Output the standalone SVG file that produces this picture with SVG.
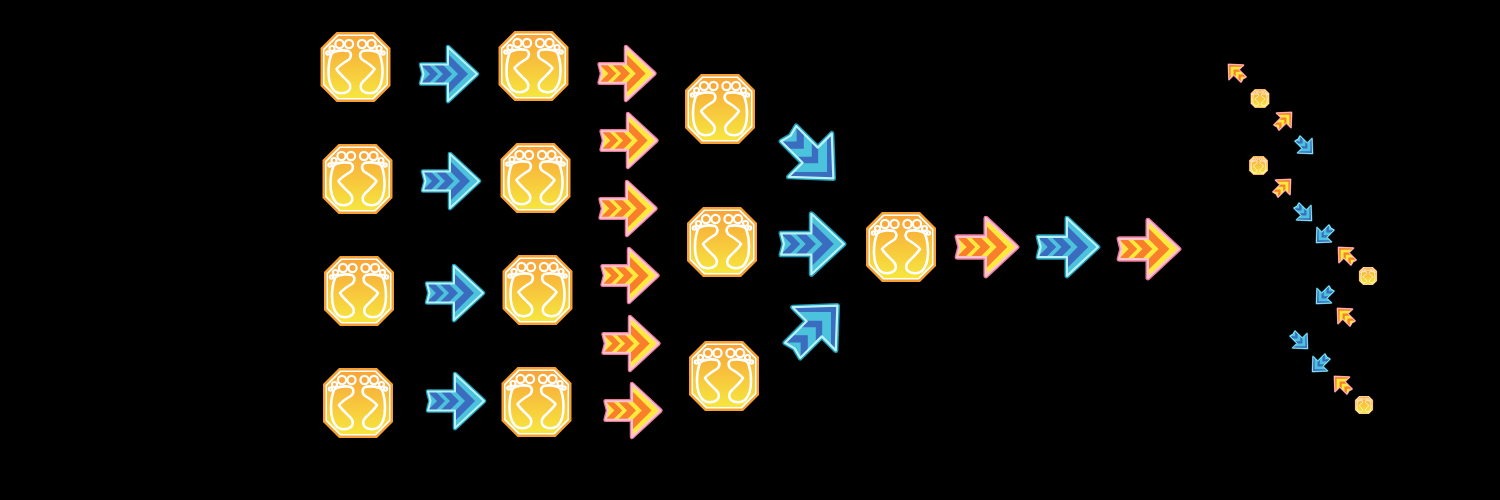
<svg xmlns="http://www.w3.org/2000/svg" xmlns:xlink="http://www.w3.org/1999/xlink" width="1500" height="500" viewBox="0 0 1500 500">
<style>
.foot{fill:none;stroke:#fff;stroke-width:2.600;stroke-linejoin:round}
.toe{fill:#f9a93a;stroke:#fff;stroke-width:2.200}
.j{stroke-linejoin:round}
</style>
<defs>
<linearGradient id="g" x1="0" y1="0" x2="0" y2="1"><stop offset="0" stop-color="#f9a53a"/><stop offset="1" stop-color="#f6e63f"/></linearGradient>
<g id="f"><path class="foot" d="M-24,-13C-26,-8-27,-2-27,5C-27,13-25,20-21,24C-17,27-11,27-7,24C-4,21-5,17-8,14C-12,10-16,7-19,2C-16,-2-10,-5-6,-8C-4,-11-4,-14-7,-16C-12,-17-21,-17-24,-13Z"/><circle class="toe" cx="-6.500" cy="-23" r="4.100"/><circle class="toe" cx="-16" cy="-23" r="4.100"/><circle class="toe" cx="-23.500" cy="-18.500" r="2.500"/><circle class="toe" cx="-27.500" cy="-14" r="1.700"/></g>
<g id="N"><path fill="#f6a02f" d="M-19,-35H19L35,-19V19L19,35H-19L-35,19V-19Z"/><path fill="#fff" d="M-18,-32.500H18L32.500,-18V18L18,32.500H-18L-32.500,18V-18Z"/><path fill="url(#g)" d="M-17,-31H17L31,-17V17L17,31H-17L-31,17V-17Z"/><use xlink:href="#f" href="#f"/><use xlink:href="#f" href="#f" transform="scale(-1,1)"/></g>
<path id="a" d="M-28,-9.500H-1V-27L28,0L-1,27V9.500H-28L-25.500,0Z"/>
<clipPath id="c"><use href="#a" xlink:href="#a"/></clipPath>
<path id="ch" d="M19,0L-11,-30H-21L9,0L-21,30H-11ZM3,0L-27,-30H-36L-6,0L-36,30H-27ZM-11,0L-41,-30H-49L-19,0L-49,30H-41Z"/>
<path id="ch2" d="M30,0L0,-30H-10L20,0L-10,30H0ZM9,0L-21,-30H-29L1,0L-29,30H-21ZM-9,0L-39,-30H-48L-18,0L-48,30H-39Z"/>
<g id="BO"><use href="#a" xlink:href="#a" fill="none" stroke="#1a9ab8" stroke-width="4.600" class="j"/><use href="#a" xlink:href="#a" fill="#4cc3dc"/></g>
<g id="RO"><use href="#a" xlink:href="#a" fill="none" stroke="#e8789a" stroke-width="4.600" class="j"/><use href="#a" xlink:href="#a" fill="#fdea3c"/></g>
<use id="BE" href="#a" xlink:href="#a" fill="none" stroke="#b8f2f4" stroke-width="2" class="j"/>
<use id="RE" href="#a" xlink:href="#a" fill="none" stroke="#ffc4d2" stroke-width="2" class="j"/>
<g id="B"><use href="#BO" xlink:href="#BO"/><g clip-path="url(#c)"><use href="#ch" xlink:href="#ch" fill="#3a6cc0"/></g><use href="#BE" xlink:href="#BE"/></g>
<g id="R"><use href="#RO" xlink:href="#RO"/><g clip-path="url(#c)"><use href="#ch" xlink:href="#ch" fill="#f97f2c"/></g><use href="#RE" xlink:href="#RE"/></g>
<g id="BD"><use href="#BO" xlink:href="#BO"/><g clip-path="url(#c)"><use href="#ch2" xlink:href="#ch2" fill="#3a6cc0"/></g><use href="#BE" xlink:href="#BE"/></g>
<g id="RD"><use href="#RO" xlink:href="#RO"/><g clip-path="url(#c)"><use href="#ch2" xlink:href="#ch2" fill="#f97f2c"/></g><use href="#RE" xlink:href="#RE"/></g>
</defs>
<rect width="1500" height="500" fill="#000"/>
<g id="nodes">
<use id="n1" href="#N" xlink:href="#N" x="355.500" y="67"/>
<use id="n2" href="#N" xlink:href="#N" x="357.500" y="179"/>
<use id="n3" href="#N" xlink:href="#N" x="359" y="291"/>
<use id="n4" href="#N" xlink:href="#N" x="358" y="403"/>
<use id="n5" href="#N" xlink:href="#N" x="533.500" y="66"/>
<use id="n6" href="#N" xlink:href="#N" x="535.500" y="178"/>
<use id="n7" href="#N" xlink:href="#N" x="537.500" y="290"/>
<use id="n8" href="#N" xlink:href="#N" x="536.500" y="402"/>
<use id="n9" href="#N" xlink:href="#N" x="720" y="109"/>
<use id="n10" href="#N" xlink:href="#N" x="722" y="242"/>
<use id="n11" href="#N" xlink:href="#N" x="724" y="376"/>
<use id="n12" href="#N" xlink:href="#N" x="901" y="247"/>
<use id="n13" href="#N" xlink:href="#N" transform="translate(1260,98.500) scale(.27)"/>
<use id="n14" href="#N" xlink:href="#N" transform="translate(1258.500,165.500) scale(.27)"/>
<use id="n15" href="#N" xlink:href="#N" transform="translate(1368,276) scale(.26)"/>
<use id="n16" href="#N" xlink:href="#N" transform="translate(1364,405) scale(.26)"/>
</g>
<g id="connectors">
<use href="#B" xlink:href="#B" x="449" y="74"/>
<use href="#B" xlink:href="#B" x="451" y="181"/>
<use href="#B" xlink:href="#B" x="455" y="293"/>
<use href="#B" xlink:href="#B" x="456" y="401"/>
<use href="#R" xlink:href="#R" transform="translate(627,73.500) scale(.98)"/>
<use href="#R" xlink:href="#R" transform="translate(629,140.500) scale(.98)"/>
<use href="#R" xlink:href="#R" transform="translate(628,208.500) scale(.98)"/>
<use href="#R" xlink:href="#R" transform="translate(630,275.500) scale(.98)"/>
<use href="#R" xlink:href="#R" transform="translate(631,343.500) scale(.98)"/>
<use href="#R" xlink:href="#R" transform="translate(633,410.500) scale(.98)"/>
<use href="#BD" xlink:href="#BD" transform="translate(811,156) rotate(45) scale(1.130)"/>
<use href="#B" xlink:href="#B" transform="translate(812.500,244) scale(1.120)"/>
<use href="#BD" xlink:href="#BD" transform="translate(815,328) rotate(-45) scale(1.130)"/>
<use href="#R" xlink:href="#R" transform="translate(987,247) scale(1.070)"/>
<use href="#B" xlink:href="#B" transform="translate(1068,247) scale(1.070)"/>
<use href="#R" xlink:href="#R" transform="translate(1149,249) scale(1.070)"/>
<use href="#RD" xlink:href="#RD" transform="translate(1236,72) rotate(-135) scale(.38)"/>
<use href="#RD" xlink:href="#RD" transform="translate(1284,120) rotate(-45) scale(.38)"/>
<use href="#BD" xlink:href="#BD" transform="translate(1305,146) rotate(45) scale(.38)"/>
<use href="#RD" xlink:href="#RD" transform="translate(1283,187) rotate(-45) scale(.38)"/>
<use href="#BD" xlink:href="#BD" transform="translate(1304,213) rotate(45) scale(.38)"/>
<use href="#BD" xlink:href="#BD" transform="translate(1324,235) rotate(135) scale(.38)"/>
<use href="#RD" xlink:href="#RD" transform="translate(1346,255) rotate(-135) scale(.38)"/>
<use href="#BD" xlink:href="#BD" transform="translate(1324,296) rotate(135) scale(.38)"/>
<use href="#RD" xlink:href="#RD" transform="translate(1345,316) rotate(-135) scale(.38)"/>
<use href="#BD" xlink:href="#BD" transform="translate(1300,341) rotate(45) scale(.38)"/>
<use href="#BD" xlink:href="#BD" transform="translate(1320,364) rotate(135) scale(.38)"/>
<use href="#RD" xlink:href="#RD" transform="translate(1342,384) rotate(-135) scale(.38)"/>
</g>
</svg>
